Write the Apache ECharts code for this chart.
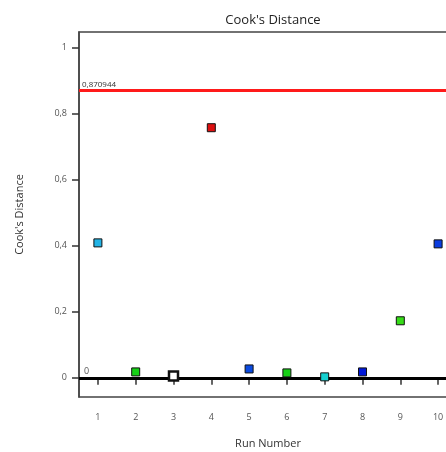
<!DOCTYPE html>
<html><head><meta charset="utf-8">
<script src="https://cdn.jsdelivr.net/npm/echarts@6/dist/echarts.min.js"></script>
<style>html,body{margin:0;padding:0;background:#fff}#c{width:446px;height:452px}</style>
</head><body><div id="c"></div>
<script>
const runs = [1,2,3,4,5,6,7,8,9,10];
const cooks = [0.409,0.018,0.006,0.758,0.027,0.015,0.003,0.018,0.173,0.406];
const pointColors = ['#22b4e6','#16d016','#ffffff','#dd1010','#0a4ae0','#16d016','#14d0d0','#0018d8','#36dc18','#0a3ce0'];
const threshold = 0.870944;
const yTicks = [0,0.2,0.4,0.6,0.8,1];
const font = 'Open Sans';
const chart = echarts.init(document.getElementById('c'));
chart.setOption({
  animation:false,
  title:{text:"Cook's Distance",left:268,top:9,textAlign:'center',textStyle:{fontFamily:font,fontSize:13,fontWeight:'normal',color:'#222'}},
  grid:{left:79,top:32,width:378,height:365,outerBoundsMode:'none',containLabel:false,show:true,borderColor:'#444',borderWidth:1.5},
  xAxis:{type:'value',min:0.5,max:10.5,name:'Run Number',nameLocation:'middle',nameGap:41,
    nameTextStyle:{fontFamily:font,fontSize:11,color:'#333'},
    axisLine:{show:true,lineStyle:{color:'#444',width:1.5}},
    splitLine:{show:false},
    axisTick:{show:true,customValues:runs,length:7,lineStyle:{color:'#333',width:1.5}},
    axisLabel:{customValues:runs,fontFamily:font,fontSize:9,color:'#555',margin:16}},
  yAxis:{type:'value',min:-0.058,max:1.048,name:"Cook's Distance",nameLocation:'middle',nameGap:54,
    nameTextStyle:{fontFamily:font,fontSize:11,color:'#333'},
    axisLine:{show:true,lineStyle:{color:'#444',width:1.5}},
    splitLine:{show:false},
    axisTick:{show:true,customValues:yTicks,length:7,lineStyle:{color:'#333',width:1.5}},
    axisLabel:{customValues:yTicks,fontFamily:font,fontSize:9,color:'#555',margin:12,
      formatter:v=>String(Math.round(v*10)/10).replace('.',',')}},
  series:[{
    type:'scatter',symbol:'rect',
    data:runs.map((r,i)=>({value:[r,cooks[i]],symbolSize:i===2?9:8,
      itemStyle:{opacity:1,color:pointColors[i],borderColor:'#111',borderWidth:i===2?2.5:1}})),
    itemStyle:{opacity:1},
    z:5,
    markLine:{silent:true,symbol:'none',
      data:[
        {yAxis:threshold,lineStyle:{color:'#ff1a1a',width:3,type:'solid',opacity:1},
         label:{show:true,position:'insideStartTop',formatter:'0,870944',fontFamily:font,fontSize:8,color:'#333',distance:[3,2]}},
        {yAxis:0,lineStyle:{color:'#000',width:3,type:'solid',opacity:1},
         label:{show:true,position:'insideStartTop',formatter:'0',fontFamily:font,fontSize:9,color:'#555',distance:[5,2]}}
      ]}
  }]
});
</script></body></html>
